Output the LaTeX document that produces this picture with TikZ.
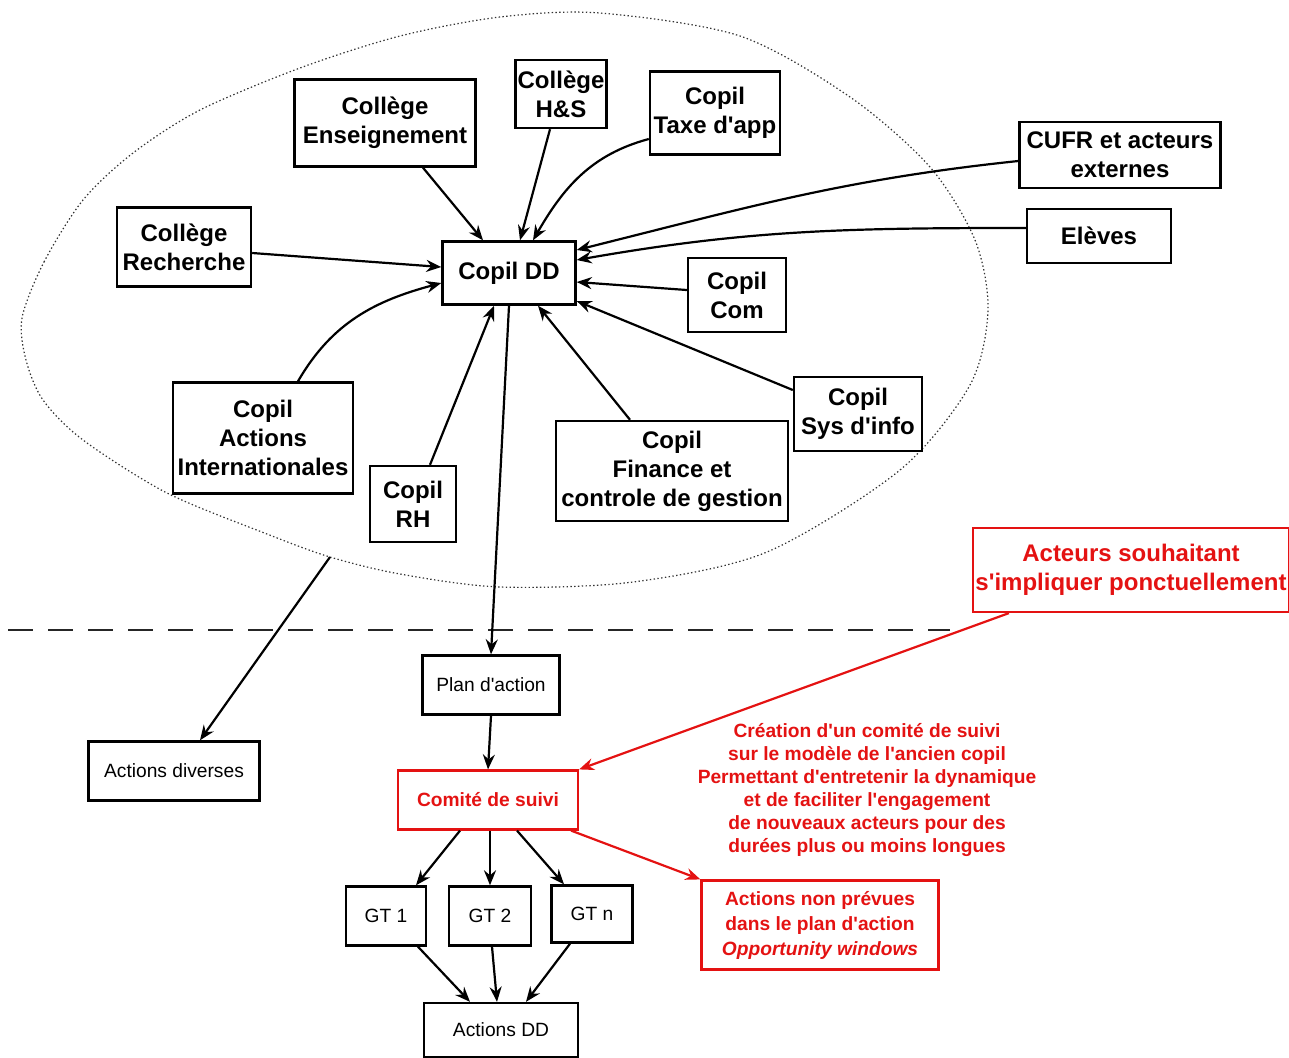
\documentclass[tikz,border=0pt]{standalone}
\usepackage{fontspec}
\setmainfont{Liberation Sans}[Ligatures=TeXOff]
\usetikzlibrary{arrows.meta}
\definecolor{suivicol}{RGB}{228,18,18}
\colorlet{ovalcol}{black!80}
\colorlet{cutcol}{black!85}

\tikzset{
  copilbox/.style={draw, line width=1.2pt, inner sep=0pt, align=center, font=\bfseries\fontsize{12}{14.5}\selectfont},
  plainbox/.style={draw, line width=1.2pt, inner sep=0pt, align=center, font=\fontsize{9.6}{11.5}\selectfont},
  redbox/.style={draw=suivicol, text=suivicol, line width=1.1pt, inner sep=0pt, align=center},
  link/.style={line width=1.1pt, -{Stealth[length=7.5pt, width=6pt, inset=2.5pt]}},
  redlink/.style={link, color=suivicol},
}

\begin{document}
\begin{tikzpicture}[x=0.5pt, y=0.5pt]
		\useasboundingbox (0,0) rectangle (1289,-1057);
		% perimetre du copil
		\draw[ovalcol, line width=0.6pt, dash pattern=on 0.7pt off 1.2pt] plot[smooth cycle, tension=0.5] coordinates {(22,-318) (44,-262) (83,-200) (133,-153) (200,-110) (300,-68) (400,-36) (500,-17) (600,-13) (740,-36) (850,-97) (930,-167) (975,-240) (988,-310) (970,-385) (900,-470) (767,-552) (633,-582) (500,-587) (400,-574) (330,-557) (267,-534) (167,-493) (83,-440) (43,-400) (26,-360)};
		\coordinate (ovalexit) at (330,-557);
		\draw[cutcol, line width=1.4pt, dash pattern=on 12.5pt off 7.5pt] (8,-630) -- (950,-630);

		\node[copilbox, minimum width=66.5pt, minimum height=31.5pt] (copil) at (509,-273) {Copil DD};
		\node[copilbox, minimum width=90.5pt, minimum height=43.5pt] (ens) at (385,-123) {Collège\\Enseignement};
		\node[copilbox, minimum width=45.5pt, minimum height=34pt] (hs) at (561,-94) {Collège\\H\&S};
		\node[copilbox, minimum width=65pt, minimum height=41.5pt] (taxe) at (715,-113) {Copil\\Taxe d'app};
		\node[copilbox, minimum width=100.5pt, minimum height=33pt] (cufr) at (1120,-155) {CUFR et acteurs\\externes};
		\node[copilbox, minimum width=72pt, minimum height=27pt] (eleves) at (1099,-236) {Elèves};
		\node[copilbox, minimum width=67pt, minimum height=39.5pt] (rech) at (184,-247) {Collège\\Recherche};
		\node[copilbox, minimum width=49pt, minimum height=37pt] (com) at (737,-295) {Copil\\Com};
		\node[copilbox, minimum width=90pt, minimum height=55.5pt] (inter) at (263,-438) {Copil\\Actions\\Internationales};
		\node[copilbox, minimum width=43pt, minimum height=38pt] (rh) at (413,-504) {Copil\\RH};
		\node[copilbox, minimum width=116pt, minimum height=50pt] (fin) at (672,-471) {Copil\\Finance et\\controle de gestion};
		\node[copilbox, minimum width=64pt, minimum height=37pt] (sys) at (858,-414) {Copil\\Sys d'info};

		\node[redbox, minimum width=158pt, minimum height=42pt, font=\bfseries\fontsize{12}{14.5}\selectfont] (acteurs) at (1131,-570) {Acteurs souhaitant\\s'impliquer ponctuellement};
		\node[plainbox, minimum width=68.5pt, minimum height=29.5pt] (plan) at (491,-685) {Plan d'action};
		\node[plainbox, minimum width=85.5pt, minimum height=29.5pt] (divers) at (174,-771) {Actions diverses};
		\node[redbox, minimum width=90pt, minimum height=29.5pt, font=\bfseries\fontsize{9.6}{11.5}\selectfont] (comite) at (488,-800) {Comité de suivi};
		\node[text=suivicol, align=center, inner sep=0pt, font=\bfseries\fontsize{9.6}{11.5}\selectfont] (creation) at (867,-790) {Création d'un comité de suivi\\sur le modèle de l'ancien copil\\Permettant d'entretenir la dynamique\\et de faciliter l'engagement\\de nouveaux acteurs pour des\\durées plus ou moins longues};
		\node[redbox, minimum width=118.5pt, minimum height=44.5pt, font=\bfseries\fontsize{9.6}{12.5}\selectfont] (nonprev) at (820,-925) {Actions non prévues\\dans le plan d'action\\\textit{Opportunity windows}};
		\node[plainbox, minimum width=40pt, minimum height=29.5pt] (gta) at (386,-916) {GT 1};
		\node[plainbox, minimum width=41pt, minimum height=29.5pt] (gtb) at (490,-916) {GT 2};
		\node[plainbox, minimum width=40.5pt, minimum height=28.5pt] (gtn) at (592,-914) {GT n};
		\node[plainbox, minimum width=77pt, minimum height=27pt] (actdd) at (501,-1030) {Actions DD};

		% vers le copil DD
		\draw[link] ([xshift=19pt]ens.south) -- ([xshift=-13pt]copil.north);
		\draw[link] ([xshift=-5.5pt]hs.south) -- ([xshift=5.5pt]copil.north);
		\draw[link] ([yshift=-13pt]taxe.west) to[out=195, in=60] ([xshift=12pt]copil.north);
		\draw[link] ([yshift=-3pt]cufr.west) to[out=186, in=14] ([yshift=11.5pt]copil.east);
		\draw[link] ([yshift=4pt]eleves.west) to[out=180, in=10] ([yshift=6.5pt]copil.east);
		\draw[link] ([yshift=-3pt]rech.east) -- ([yshift=3pt]copil.west);
		\draw[link] ([yshift=2.5pt]com.west) -- ([yshift=-4.5pt]copil.east);
		\draw[link] ([yshift=12pt]sys.west) -- ([yshift=-14pt]copil.east);
		\draw[link] ([xshift=17.5pt]inter.north) to[out=60, in=195] ([yshift=-5pt]copil.west);
		\draw[link] ([xshift=8.5pt]rh.north) -- ([xshift=-7.5pt]copil.south);
		\draw[link] ([xshift=-21pt]fin.north) -- ([xshift=14.5pt]copil.south);

		% en dessous du trait
		\draw[link] (copil.south) -- (plan.north);
		\draw[link] (ovalexit) -- ([xshift=13pt]divers.north);
		\draw[link] (plan.south) -- (comite.north);
		\draw[redlink] ([xshift=18.5pt]acteurs.south west) -- (comite.north east);
		\draw[redlink] ([xshift=-4pt]comite.south east) -- (nonprev.north west);
		\draw[link] ([xshift=-14pt]comite.south) -- ([xshift=15pt]gta.north);
		\draw[link] (comite.south -| gtb.north) -- (gtb.north);
		\draw[link] ([xshift=14.5pt]comite.south) -- ([xshift=-14pt]gtn.north);
		\draw[link] ([xshift=16pt]gta.south) -- ([xshift=-15.5pt]actdd.north);
		\draw[link] ([xshift=1pt]gtb.south) -- ([xshift=-2pt]actdd.north);
		\draw[link] ([xshift=-11pt]gtn.south) -- ([xshift=12.5pt]actdd.north);
	\end{tikzpicture}
\end{document}
